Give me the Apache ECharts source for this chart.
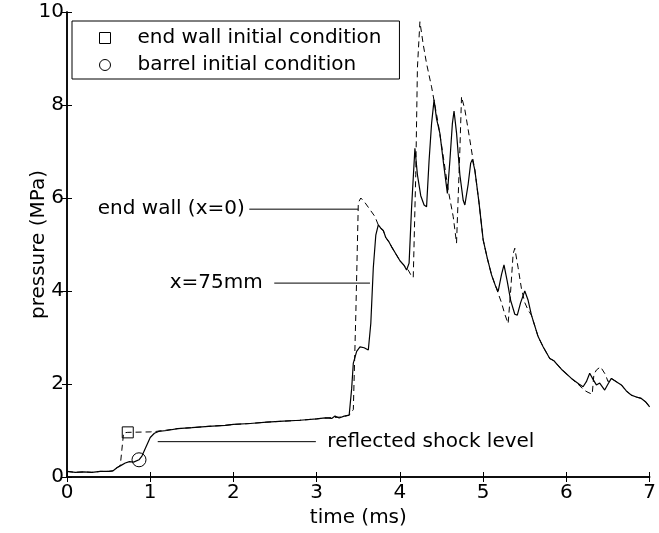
<!DOCTYPE html>
<html>
<head>
<meta charset="utf-8">
<script src="https://cdn.jsdelivr.net/npm/echarts@6/dist/echarts.min.js"></script>
<style>html,body{margin:0;padding:0;background:#fff;}#c{width:659px;height:533px;}</style>
</head>
<body>
<div id="c"></div>
<script>
// ---- data ----
const xTicks = [0, 1, 2, 3, 4, 5, 6, 7];
const yTicks = [0, 2, 4, 6, 8, 10];

// x = 75 mm (barrel) pressure trace, solid
const barrelTrace = [
  [0,0.12],[0.1,0.1],[0.2,0.11],[0.3,0.1],[0.4,0.12],[0.5,0.12],[0.55,0.13],[0.6,0.2],[0.65,0.25],
  [0.7,0.3],[0.75,0.33],[0.8,0.32],[0.865,0.37],[0.9,0.45],[0.95,0.65],[1.0,0.85],[1.05,0.94],
  [1.1,0.98],[1.2,1.0],[1.33,1.04],[1.5,1.06],[1.7,1.09],[1.9,1.11],[2.0,1.13],[2.2,1.15],[2.4,1.18],
  [2.6,1.2],[2.8,1.22],[3.0,1.25],[3.1,1.27],[3.18,1.26],[3.22,1.31],[3.27,1.27],[3.33,1.31],[3.39,1.33],
  [3.42,1.9],[3.44,2.45],[3.48,2.7],[3.52,2.8],[3.57,2.78],[3.62,2.73],[3.65,3.3],[3.68,4.5],[3.71,5.2],
  [3.74,5.42],[3.77,5.35],[3.8,5.3],[3.83,5.15],[3.87,5.05],[3.9,4.95],[3.95,4.8],[4.0,4.65],[4.05,4.55],
  [4.08,4.45],[4.11,4.6],[4.14,5.8],[4.18,7.07],[4.21,6.5],[4.25,6.05],[4.29,5.85],[4.32,5.81],[4.35,6.8],
  [4.38,7.6],[4.41,8.11],[4.44,7.7],[4.48,7.39],[4.52,6.8],[4.57,6.1],[4.6,6.8],[4.63,7.6],[4.65,7.87],
  [4.68,7.4],[4.72,6.5],[4.76,5.95],[4.78,5.85],[4.82,6.3],[4.85,6.75],[4.87,6.83],[4.9,6.6],[4.95,5.9],
  [5.0,5.1],[5.05,4.7],[5.1,4.35],[5.15,4.1],[5.18,3.99],[5.22,4.35],[5.25,4.56],[5.29,4.2],[5.33,3.8],
  [5.38,3.5],[5.41,3.48],[5.45,3.75],[5.5,4.0],[5.54,3.8],[5.58,3.48],[5.62,3.25],[5.66,3.02],[5.72,2.8],
  [5.8,2.55],[5.85,2.5],[5.88,2.44],[5.95,2.3],[6.06,2.12],[6.15,2.0],[6.2,1.94],[6.24,2.05],[6.28,2.23],
  [6.32,2.1],[6.36,1.98],[6.4,2.02],[6.46,1.87],[6.5,2.0],[6.54,2.12],[6.6,2.05],[6.66,1.98],[6.72,1.85],
  [6.78,1.76],[6.84,1.72],[6.9,1.69],[6.95,1.62],[7.0,1.51]
];

// end wall (x = 0) pressure trace, dashed
const endWallTrace = [
  [0,0.12],[0.1,0.1],[0.2,0.11],[0.3,0.1],[0.4,0.12],[0.5,0.12],[0.55,0.13],[0.6,0.2],[0.64,0.25],
  [0.66,0.6],[0.68,0.95],[0.73,0.96],[1.0,0.97],[1.07,0.98],[1.2,1.01],[1.33,1.04],[1.5,1.06],[1.7,1.09],
  [1.9,1.11],[2.0,1.13],[2.2,1.15],[2.4,1.18],[2.6,1.2],[2.8,1.22],[3.0,1.25],[3.1,1.27],[3.2,1.28],
  [3.3,1.29],[3.39,1.33],[3.44,1.45],[3.47,3.5],[3.5,5.9],[3.53,6.0],[3.58,5.9],[3.64,5.75],[3.7,5.6],
  [3.74,5.42],[3.77,5.35],[3.8,5.3],[3.83,5.15],[3.87,5.05],[3.9,4.95],[3.95,4.8],[4.0,4.65],[4.05,4.55],
  [4.1,4.45],[4.13,4.35],[4.16,4.29],[4.19,6.5],[4.21,8.8],[4.24,9.79],[4.28,9.3],[4.32,8.89],[4.38,8.39],
  [4.46,7.6],[4.52,6.9],[4.58,6.17],[4.64,5.6],[4.68,5.03],[4.72,7.03],[4.74,8.18],[4.78,7.9],[4.84,7.25],
  [4.88,6.8],[4.9,6.6],[4.95,5.9],[5.0,5.1],[5.05,4.7],[5.1,4.35],[5.15,4.1],[5.18,3.95],[5.22,3.75],
  [5.26,3.5],[5.3,3.3],[5.33,4.0],[5.36,4.8],[5.38,4.92],[5.42,4.5],[5.46,4.05],[5.5,3.75],[5.54,3.59],
  [5.58,3.48],[5.62,3.25],[5.66,3.02],[5.72,2.8],[5.8,2.55],[5.85,2.5],[5.88,2.44],[5.95,2.3],[6.06,2.12],
  [6.15,1.98],[6.21,1.87],[6.26,1.82],[6.31,1.78],[6.33,2.2],[6.36,2.3],[6.41,2.37],[6.47,2.2],[6.5,2.05],
  [6.54,2.12],[6.6,2.05],[6.66,1.98],[6.72,1.85],[6.78,1.76],[6.84,1.72],[6.9,1.69],[6.95,1.62],[7.0,1.51]
];

const endWallInit = [[0.73, 0.96]];
const barrelInit = [[0.865, 0.37]];

// annotation leader lines and their labels
const endWallLeader = [[2.19, 5.76], [3.5, 5.76]];
const barrelLeader = [[2.49, 4.17], [3.64, 4.17]];
const shockLeader = [[1.09, 0.76], [2.99, 0.76]];
const labelTexts = ['end wall (x=0)', 'x=75mm', 'reflected shock level'];
const legendNames = ['end wall initial condition', 'barrel initial condition'];
const axisNames = ['time (ms)', 'pressure (MPa)'];

// ---- chart ----
const FONT = 'DejaVu Sans';
const chart = echarts.init(document.getElementById('c'), null, {renderer: 'canvas'});
const axisLineStyle = {color: '#000', width: 1.5};
const tickStyle = {show: true, inside: true, length: 5, lineStyle: {color: '#000', width: 1}};
const labelStyle = {color: '#000', fontFamily: FONT, fontSize: 20};
const annoLabel = {show: true, color: '#000', fontFamily: FONT, fontSize: 20, opacity: 1};
const hollow = {color: 'rgba(0,0,0,0)', borderColor: '#000', borderWidth: 1, opacity: 1};

function leader(data) {
  return {type: 'line', data: data, symbol: 'none', silent: true,
    lineStyle: {color: '#000', width: 1}, xAxisIndex: 0, yAxisIndex: 0, z: 3};
}

const option = {
  animation: false,
  backgroundColor: '#fff',
  grid: {left: 67, right: 6.5, top: 12, bottom: 56, containLabel: false},
  xAxis: [
    {type: 'value', min: xTicks[0], max: xTicks[xTicks.length - 1], interval: 1, position: 'bottom',
     name: axisNames[0], nameLocation: 'middle', nameGap: 31, nameMoveOverlap: false,
     nameTextStyle: {color: '#000', fontFamily: FONT, fontSize: 20},
     axisLine: {show: true, lineStyle: axisLineStyle}, axisTick: tickStyle,
     axisLabel: Object.assign({margin: 6}, labelStyle), splitLine: {show: false}},
    {type: 'value', min: xTicks[0], max: xTicks[xTicks.length - 1], interval: 1, position: 'top',
     axisLine: {show: true, lineStyle: axisLineStyle}, axisTick: tickStyle,
     axisLabel: {show: false}, splitLine: {show: false}}
  ],
  yAxis: [
    {type: 'value', min: yTicks[0], max: yTicks[yTicks.length - 1], interval: 2, position: 'left',
     name: axisNames[1], nameLocation: 'middle', nameGap: 18, nameMoveOverlap: false,
     nameTextStyle: {color: '#000', fontFamily: FONT, fontSize: 20},
     axisLine: {show: true, lineStyle: axisLineStyle}, axisTick: tickStyle,
     axisLabel: Object.assign({margin: 3}, labelStyle), splitLine: {show: false}},
    {type: 'value', min: yTicks[0], max: yTicks[yTicks.length - 1], interval: 2, position: 'right',
     axisLine: {show: true, lineStyle: axisLineStyle}, axisTick: tickStyle,
     axisLabel: {show: false}, splitLine: {show: false}}
  ],
  legend: {
    data: [
      {name: legendNames[0], icon: 'path://M0,0L10,0L10,10L0,10Z', itemStyle: hollow},
      {name: legendNames[1], icon: 'circle', itemStyle: hollow}
    ],
    orient: 'vertical', left: 72, top: 21,
    padding: [7, 18, 4, 27], itemGap: 7, itemWidth: 55, itemHeight: 11,
    borderColor: '#000', borderWidth: 1, borderRadius: 0, backgroundColor: '#fff',
    textStyle: {color: '#000', fontFamily: FONT, fontSize: 20},
    selectedMode: false, symbolKeepAspect: true
  },
  series: [
    {name: 'x=75mm', type: 'line', data: barrelTrace, symbol: 'none', silent: true,
     lineStyle: {color: '#000', width: 1.2}, z: 2},
    {name: 'end wall (x=0)', type: 'line', data: endWallTrace, symbol: 'none', silent: true,
     lineStyle: {color: '#000', width: 1, type: [6, 4]}, z: 2},
    leader(endWallLeader),
    leader(barrelLeader),
    leader(shockLeader),
    {name: legendNames[0], type: 'scatter', data: endWallInit, symbol: 'rect', symbolSize: 11,
     itemStyle: hollow, z: 4, silent: true},
    {name: legendNames[1], type: 'scatter', data: barrelInit, symbol: 'circle', symbolSize: 14,
     itemStyle: hollow, z: 4, silent: true},
    {name: 'labels', type: 'scatter', silent: true, symbolSize: 1,
     itemStyle: {color: 'rgba(0,0,0,0)', opacity: 1},
     data: [
       {value: endWallLeader[0], label: Object.assign({formatter: labelTexts[0], position: 'left', distance: 4}, annoLabel)},
       {value: barrelLeader[0], label: Object.assign({formatter: labelTexts[1], position: 'left', distance: 11}, annoLabel)},
       {value: shockLeader[1], label: Object.assign({formatter: labelTexts[2], position: 'right', distance: 11}, annoLabel)}
     ],
     label: annoLabel, z: 5}
  ]
};
chart.setOption(option);
</script>
</body>
</html>
